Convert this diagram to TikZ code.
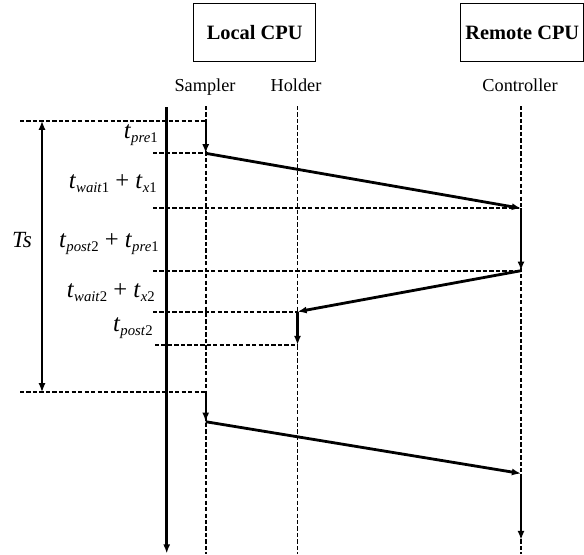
\documentclass[tikz,border=0pt]{standalone}
\usepackage{fontspec}
\setmainfont{Liberation Serif}
\usetikzlibrary{arrows.meta, positioning}
\newcommand{\tdel}[2]{\textit{t}\raisebox{-3pt}{\fontsize{10.5}{12}\selectfont\textit{#1}#2}}

\begin{document}
\begin{tikzpicture}[x=0.025cm, y=-0.025cm,
        cpu/.style={rectangle, draw, line width=0.7pt, minimum width=3.05cm, minimum height=1.46cm, font=\fontsize{14.5}{17}\selectfont\bfseries},
        lane/.style={anchor=base, font=\fontsize{13}{15}\selectfont},
        delay/.style={anchor=base east, inner sep=0pt, font=\fontsize{17.5}{20}\selectfont},
        life/.style={line width=1.3pt, dash pattern=on 3pt off 1.6pt},
        guide/.style={line width=1.3pt, dash pattern=on 3pt off 1.6pt},
        msg/.style={-{Latex[length=6.5pt,width=5pt]}, line width=2pt},
        hop/.style={-{Latex[length=6.5pt,width=5pt]}, line width=1.5pt}
    ]
    \useasboundingbox (0,0) rectangle (584,554);

    \node[cpu] (local) at (254.7,32.5) {Local CPU};
    \node[cpu] (remote) at (522.3,32.5) {Remote CPU};
    \node[lane] (smp) at (205,91) {Sampler};
    \node[lane] (hld) at (296,91) {Holder};
    \node[lane] (ctl) at (520,91) {Controller};

    % lifelines
    \coordinate (sTop) at (205.7,106);  \coordinate (sBot) at (205.7,554);
    \coordinate (hTop) at (297.5,106);  \coordinate (hBot) at (297.5,554);
    \coordinate (cTop) at (521,106);    \coordinate (cBot) at (521,554);
    \draw[life] (sTop) -- (sBot);
    \draw[life] (hTop) -- (hBot);
    \draw[life] (cTop) -- (cBot);

    % time axis
    \coordinate (axTop) at (166.7,107);
    \coordinate (axBot) at (166.7,553.5);
    \draw[-{Latex[length=6.5pt,width=5pt]}, line width=2.2pt] (axTop) -- (axBot);

    % events
    \coordinate (s0) at (205.7,120.7);
    \coordinate (s1) at (205.7,153.3);
    \coordinate (c2) at (521,208.3);
    \coordinate (c3) at (521,270.7);
    \coordinate (h4) at (297.5,311.7);
    \coordinate (h5) at (297.5,345);
    \coordinate (s6) at (205.7,392.3);
    \coordinate (s7) at (205.7,421.7);
    \coordinate (c8) at (521,473.5);
    \coordinate (c9) at (521,540);

    % guide lines
    \coordinate (g0) at (20,120.7);
    \coordinate (g1) at (153,153.3);
    \coordinate (g2) at (153,208.3);
    \coordinate (g3) at (153,270.7);
    \coordinate (g4) at (153,311.7);
    \coordinate (g5) at (155,345);
    \coordinate (g6) at (20,392.3);
    \draw[guide] (g0) -- (s0);
    \draw[guide] (g1) -- (s1);
    \draw[guide] (g2) -- (c2);
    \draw[guide] (g3) -- (c3);
    \draw[guide] (g4) -- (h4);
    \draw[guide] (g5) -- (h5);
    \draw[guide] (g6) -- (s6);

    \draw[hop] (s0) -- (s1);
    \draw[msg] (s1) -- (c2);
    \draw[msg] (c2) -- (c3);
    \draw[msg] (c3) -- (h4);
    \draw[msg] (h4) -- (h5);
    \draw[hop] (s6) -- (s7);
    \draw[msg] (s7) -- (c8);
    \draw[msg] (c8) -- (c9);

    % sampling period
    \coordinate (ts0) at (42,120.7);
    \coordinate (ts1) at (42,392.3);
    \draw[{Latex[length=6.5pt,width=5pt]}-{Latex[length=6.5pt,width=5pt]}, line width=1.4pt] (ts0) -- (ts1);
    \node[anchor=base, inner sep=0pt, font=\fontsize{16.5}{19}\selectfont] (ts) at (22,247) {\textit{Ts}};

    \node[delay] (d1) at (158,138) {\tdel{pre}{1}};
    \node[delay] (d2) at (157,188) {\tdel{wait}{1} + \tdel{x}{1}};
    \node[delay] (d3) at (159,247) {\tdel{post}{2} + \tdel{pre}{1}};
    \node[delay] (d4) at (155,297) {\tdel{wait}{2} + \tdel{x}{2}};
    \node[delay] (d5) at (153,331) {\tdel{post}{2}};
\end{tikzpicture}
\end{document}
